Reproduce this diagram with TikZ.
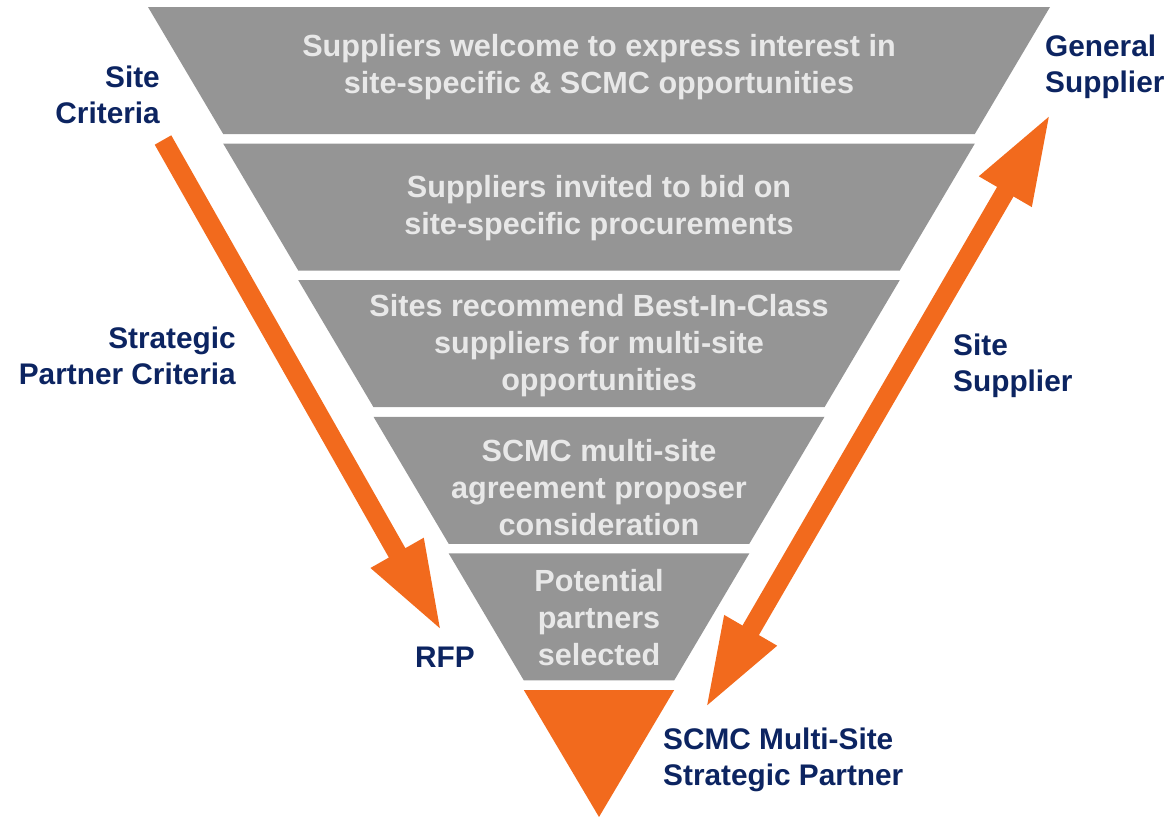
\documentclass[tikz,border=0pt]{standalone}
\usepackage{fontspec}
\setmainfont{Liberation Sans}
\usetikzlibrary{arrows.meta}
\definecolor{bandgray}{RGB}{149,149,149}
\definecolor{bandtext}{RGB}{232,232,232}
\definecolor{funnelorange}{RGB}{242,106,29}
\definecolor{labelnavy}{RGB}{12,36,97}
\tikzset{
  band/.style={fill=bandgray},
  bandlabel/.style={text=bandtext, font=\bfseries\fontsize{30.6}{37}\selectfont, align=center, inner sep=0pt},
  sidelabel/.style={text=labelnavy, font=\bfseries\fontsize{29.8}{35.5}\selectfont, inner sep=0pt},
  bigarrow/.style={draw=funnelorange, line width=19pt, line cap=butt},
}
\begin{document}
\begin{tikzpicture}[x=1pt, y=-1pt]
\useasboundingbox (0,0) rectangle (1171,817);
% funnel bands
\fill[band] (148,7) -- (1050,7) -- (974.8,134) -- (223.2,134) -- cycle;
\fill[band] (223.2,143.6) -- (974.8,143.6) -- (899.7,270.6) -- (298.3,270.6) -- cycle;
\fill[band] (298.3,280.2) -- (899.7,280.2) -- (824.5,407.2) -- (373.5,407.2) -- cycle;
\fill[band] (373.5,416.8) -- (824.5,416.8) -- (749.3,543.8) -- (448.7,543.8) -- cycle;
\fill[band] (448.7,553.4) -- (749.3,553.4) -- (674.2,680.4) -- (523.8,680.4) -- cycle;
\fill[funnelorange] (523.8,690) -- (674.2,690) -- (599,817) -- cycle;
% band texts
\node[bandlabel] (b1) at (599,67) {Suppliers welcome to express interest in\\site-specific \& SCMC opportunities};
\node[bandlabel] (b2) at (599,208) {Suppliers invited to bid on\\site-specific procurements};
\node[bandlabel] (b3) at (599,346) {Sites recommend Best-In-Class\\suppliers for multi-site\\opportunities};
\node[bandlabel] (b4) at (599,487.5) {SCMC multi-site\\agreement proposer\\consideration};
\node[bandlabel] (b5) at (599,618) {Potential\\partners\\selected};
% side labels
\node[sidelabel, align=right, anchor=east] (siteCrit) at (160,95) {Site\\Criteria};
\node[sidelabel, align=right, anchor=east] (stratCrit) at (236,356) {Strategic\\Partner Criteria};
\node[sidelabel, align=left, anchor=west] (genSup) at (1045,67) {General\\Supplier};
\node[sidelabel, align=left, anchor=west] (siteSup) at (953,366) {Site\\Supplier};
\node[sidelabel] (rfp) at (445,657) {RFP};
\node[sidelabel, align=left, anchor=west] (partner) at (663,760) {SCMC Multi-Site\\Strategic Partner};
% arrows
\coordinate (lStart) at (163,140);
\coordinate (lEnd) at (442,632);
\coordinate (rLow) at (705,709);
\coordinate (rHigh) at (1051,113);
\draw[bigarrow, -{Triangle[length=91pt, width=55pt]}] (lStart) -- (lEnd);
\draw[bigarrow, {Triangle[length=91pt, width=55pt]}-{Triangle[length=91pt, width=55pt]}] (rLow) -- (rHigh);
\end{tikzpicture}
\end{document}
